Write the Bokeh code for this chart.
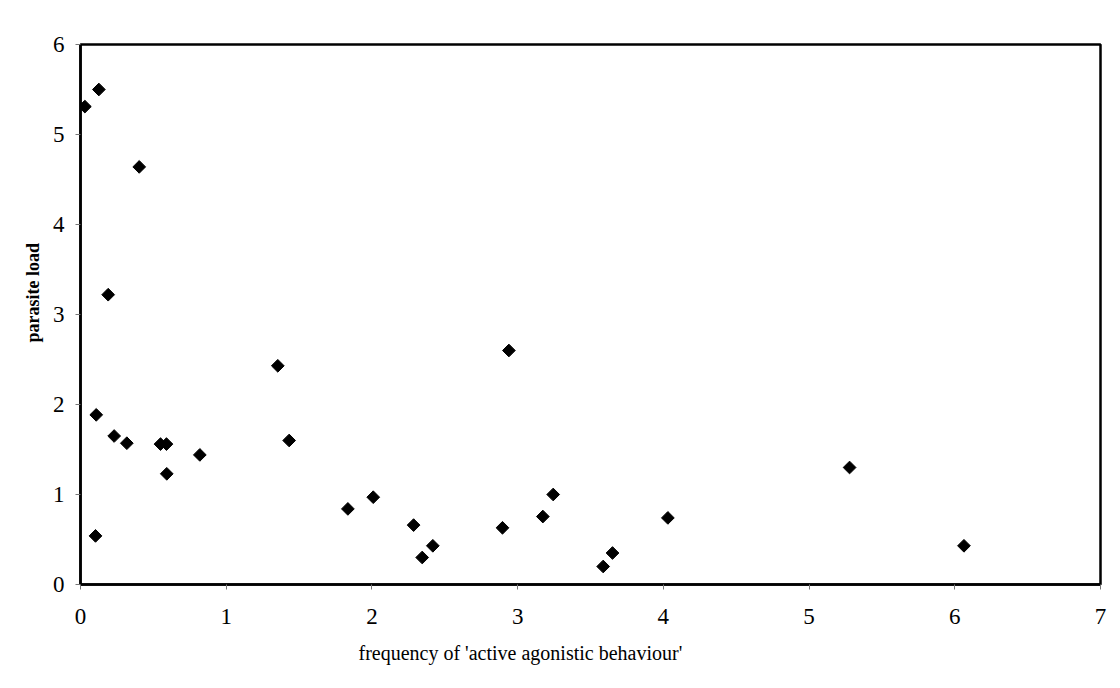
import math
from bokeh.plotting import figure
from bokeh.models import Range1d, FixedTicker, Title, ColumnDataSource
from bokeh.embed import file_html
from bokeh.resources import INLINE

# data
freq_active_agonistic = [0.03, 0.126, 0.403, 0.19, 0.108, 0.231, 0.318, 0.549, 0.59, 0.592,
                         0.819, 0.103, 1.354, 1.432, 1.835, 2.009, 2.286, 2.345, 2.418, 2.94,
                         2.896, 3.173, 3.244, 3.587, 3.651, 4.031, 5.278, 6.063]
parasite_load = [5.31, 5.50, 4.64, 3.22, 1.885, 1.65, 1.57, 1.56, 1.56, 1.23,
                 1.44, 0.54, 2.43, 1.60, 0.84, 0.97, 0.66, 0.30, 0.43, 2.60,
                 0.63, 0.755, 1.00, 0.20, 0.35, 0.74, 1.30, 0.43]
x_ticks = [0, 1, 2, 3, 4, 5, 6, 7]
y_ticks = [0, 1, 2, 3, 4, 5, 6]
x_title = "frequency of 'active agonistic behaviour'"
y_title = "parasite load"

FONT = "Liberation Serif"

p = figure(width=1112, height=680, output_backend="svg", toolbar_location=None,
           x_range=Range1d(0, 7), y_range=Range1d(0, 6),
           min_border_left=80, min_border_right=12, min_border_top=44, min_border_bottom=96)

p.grid.visible = False
p.outline_line_color = "black"
p.outline_line_width = 2.5
p.background_fill_color = "white"
p.border_fill_color = "white"

for ax, ticks in ((p.xaxis, x_ticks), (p.yaxis, y_ticks)):
    ax.ticker = FixedTicker(ticks=ticks)
    ax.axis_line_color = "black"
    ax.axis_line_width = 2.5
    ax.major_tick_line_color = "#777777"
    ax.major_tick_out = 5
    ax.major_tick_in = 0
    ax.minor_tick_line_color = None
    ax.major_label_text_font = FONT
    ax.major_label_text_font_size = "23px"
    ax.major_label_text_color = "black"

p.xaxis.major_label_standoff = 19
p.yaxis.major_label_standoff = 11

src = ColumnDataSource(dict(x=freq_active_agonistic, y=parasite_load))
p.scatter("x", "y", source=src, marker="square", size=9, angle=math.pi / 4,
          fill_color="black", line_color="black", line_width=1)

p.add_layout(Title(text=x_title, text_font=FONT, text_font_size="20px",
                   text_font_style="normal", align="left", offset=278, standoff=26,
                   text_color="black"), "below")
p.add_layout(Title(text=y_title, text_font=FONT, text_font_size="18px",
                   text_font_style="bold", align="left", offset=242, standoff=14,
                   text_color="black"), "left")

open("out.html", "w").write(file_html(p, INLINE))
